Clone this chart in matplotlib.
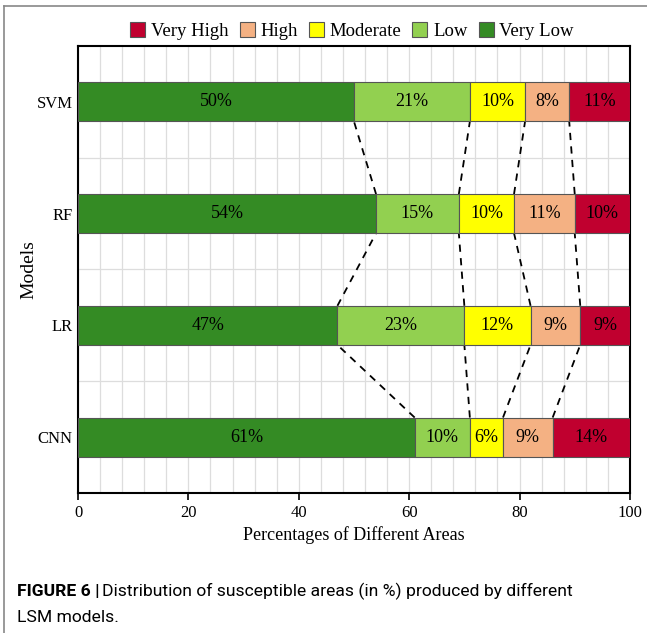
import matplotlib.pyplot as plt
import numpy as np
from matplotlib.lines import Line2D

plt.rcParams['font.family'] = ['Liberation Serif', 'DejaVu Serif']

models = ['CNN', 'LR', 'RF', 'SVM']
classes = ['Very Low', 'Low', 'Moderate', 'High', 'Very High']
very_low = [61, 47, 54, 50]
low = [10, 23, 15, 21]
moderate = [6, 12, 10, 10]
high = [9, 9, 11, 8]
very_high = [14, 9, 10, 11]
colors = ['#348b24', '#92d050', '#ffff00', '#f4b183', '#c0002f']

values = np.array([very_low, low, moderate, high, very_high])

fig = plt.figure(figsize=(6.47, 6.33), dpi=100)
ax = fig.add_axes([0.1206, 0.2212, 0.853, 0.7061])

y = np.arange(len(models))
h = 0.35
left = np.zeros(len(models))
handles = []
for i, name in enumerate(classes):
    b = ax.barh(y, values[i], h, left=left, color=colors[i], edgecolor='#555555',
                linewidth=0.8, label=name, zorder=3)
    handles.append(b)
    for k in range(len(models)):
        ax.text(left[k] + values[i][k] / 2, y[k], f"{values[i][k]}%",
                ha='center', va='center', fontsize=13, zorder=4)
    left = left + values[i]

# dashed connectors between bar boundaries
cum = np.cumsum(values, axis=0)
for i in range(len(classes)):
    for k in range(len(models) - 1):
        ax.plot([cum[i][k], cum[i][k + 1]], [y[k] + h / 2, y[k + 1] - h / 2],
                color='black', linestyle=(0, (4, 3.5)), linewidth=1.3, zorder=2)

ax.set_xlim(0, 100)
ax.set_ylim(-0.5, 3.5)
ax.set_xticks(np.arange(0, 101, 20))
ax.set_xticks(np.arange(0, 101, 4), minor=True)
ax.set_yticks(y)
ax.set_yticklabels(models)
ax.set_yticks([0.5, 1.5, 2.5], minor=True)
ax.grid(which='both', color='#dddddd', linewidth=0.9, zorder=0)
ax.set_axisbelow(True)
ax.tick_params(axis='x', which='minor', length=0)
ax.tick_params(axis='y', which='both', length=0, pad=4)
ax.tick_params(axis='x', which='major', length=5, direction='out', width=1.2)
ax.tick_params(labelsize=12)
for s in ax.spines.values():
    s.set_linewidth(1.5)

ax.set_xlabel("Percentages of Different Areas", fontsize=13, labelpad=4)
ax.set_ylabel("Models", fontsize=14, labelpad=-1)

leg_handles = handles[::-1]
fig.legend(leg_handles, [c for c in classes[::-1]], loc='center',
           bbox_to_anchor=(0.544, 0.951), ncol=5, frameon=False, fontsize=13.5,
           handlelength=0.8, handleheight=0.8, handletextpad=0.3, columnspacing=0.6)

# figure frame and caption
fig.add_artist(Line2D([0.006, 0.006], [0.0, 0.99], color='#888888', linewidth=1.2))
fig.add_artist(Line2D([0.006, 1.0], [0.99, 0.99], color='#888888', linewidth=1.2))
cap = ['Roboto', 'DejaVu Sans']
x0 = 17 / 647
size = 12.6
t1 = fig.text(x0, 0.0585, "FIGURE 6 |", family=cap, fontsize=size,
              fontweight='bold', va='baseline')
fig.canvas.draw()
bb = t1.get_window_extent()
fig.text(bb.x1 / fig.bbox.width + 0.003, 0.0585,
         "Distribution of susceptible areas (in %) produced by different",
         family=cap, fontsize=size, va='baseline')
fig.text(x0, 0.0174, "LSM models.", family=cap, fontsize=size, va='baseline')

plt.savefig('out.png', dpi=100)
